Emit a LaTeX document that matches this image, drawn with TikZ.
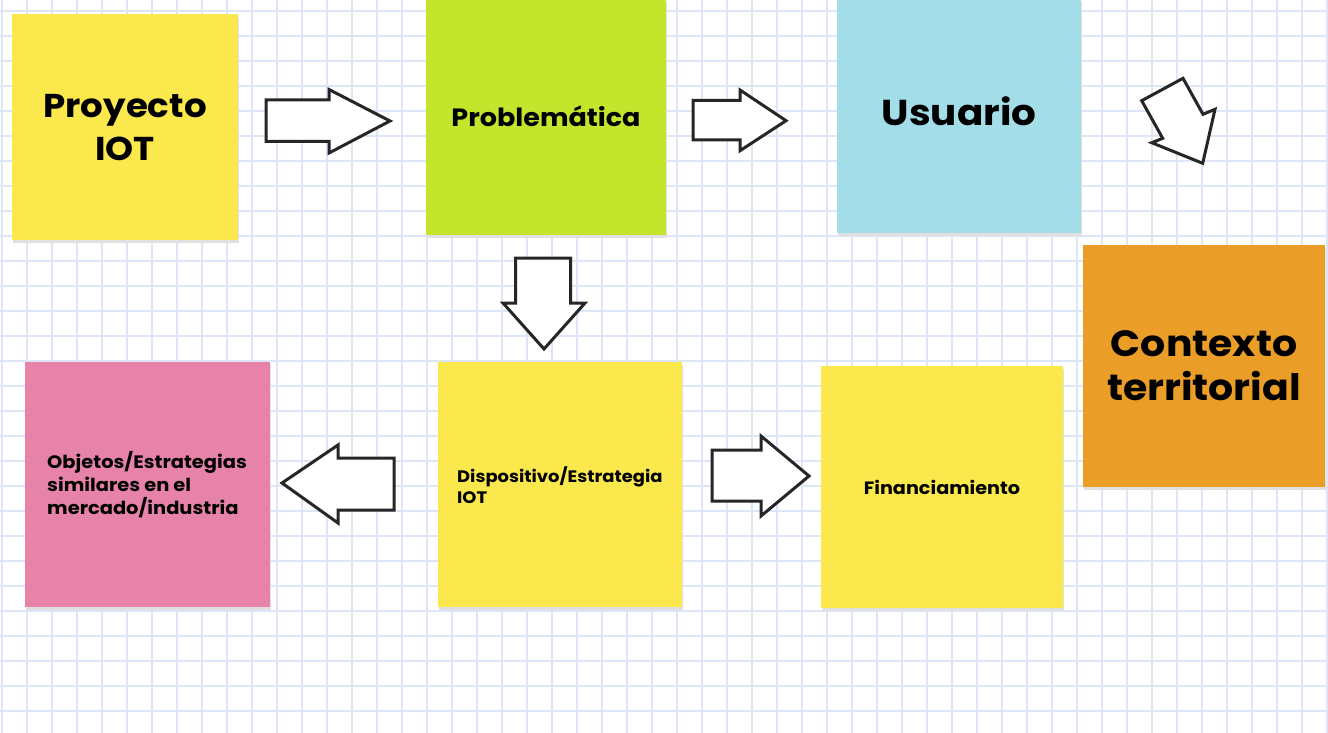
\documentclass[tikz,border=0pt]{standalone}
\usepackage{fontspec}
\setmainfont{Poppins}[FakeStretch=1.08]
\definecolor{gridc}{HTML}{DDE6F7}
\definecolor{noteyellow}{HTML}{FAE84C}
\definecolor{notegreen}{HTML}{C3E62D}
\definecolor{noteblue}{HTML}{A3DDE8}
\definecolor{noteorange}{HTML}{EB9E27}
\definecolor{notepink}{HTML}{E783A9}
\definecolor{arrowc}{HTML}{262626}
\begin{document}
\begin{tikzpicture}[x=1pt,y=-1pt,
  shadowbox/.style={fill=black!12},
  blockarrow/.style={draw=arrowc,fill=white,line width=3pt,line join=miter},
  bigtxt/.style={font=\fontsize{33}{43}\selectfont\bfseries,align=center,inner sep=0pt},
  smalltxt/.style={font=\fontsize{18}{23}\selectfont\bfseries,align=left,inner sep=0pt,anchor=west},
]
\useasboundingbox (0,0) rectangle (1328,733);
\fill[white] (0,0) rectangle (1328,733);
% grid
\foreach \i in {0,...,53} {
  \draw[gridc,line width=2pt] ({1.7+25*\i},0) -- ({1.7+25*\i},733);
}
\foreach \j in {0,...,29} {
  \draw[gridc,line width=2pt] (0,{10.7+25*\j}) -- (1328,{10.7+25*\j});
}
% shadows
\fill[shadowbox] (13,17) rectangle (239,243);
\fill[shadowbox] (427,2) rectangle (667,238);
\fill[shadowbox] (838,2) rectangle (1082,236);
\fill[shadowbox] (1084,248) rectangle (1326,490);
\fill[shadowbox] (26,365) rectangle (271,610);
\fill[shadowbox] (439,365) rectangle (683,610);
\fill[shadowbox] (822,369) rectangle (1064,611);
% notes
\path[fill=noteyellow] (12,14) rectangle (238,240) node[midway] (proy) {};
\path[fill=notegreen] (426,-2) rectangle (666,235) node[midway] (prob) {};
\path[fill=noteblue] (837,-2) rectangle (1081,233) node[midway] (usu) {};
\path[fill=noteorange] (1083,245) rectangle (1325,487) node[midway] (ctx) {};
\path[fill=notepink] (25,362) rectangle (270,607) node[midway] (obj) {};
\path[fill=noteyellow] (438,362) rectangle (682,607) node[midway] (disp) {};
\path[fill=noteyellow] (821,366) rectangle (1063,608) node[midway] (fin) {};
% texts
\node[bigtxt] (tproy) at (125,128) {Proyecto\\IOT};
\node[font=\fontsize{25}{28}\selectfont\bfseries,inner sep=0pt] (tprob) at (546,116) {Problemática};
\node[font=\fontsize{36}{44}\selectfont\bfseries,inner sep=0pt] (tusu) at (959,111) {Usuario};
\node[font=\fontsize{36.5}{44}\selectfont\bfseries,align=center,inner sep=0pt] (tctx) at (1204,366) {Contexto\\territorial};
\node[smalltxt] (tobj) at (47,485) {Objetos/Estrategias\\similares en el\\mercado/industria};
\node[smalltxt,font=\fontsize{16.6}{21}\selectfont\bfseries] (tdisp) at (457,485) {Dispositivo/Estrategia\\IOT};
\node[font=\fontsize{17.8}{21}\selectfont\bfseries,inner sep=0pt] (tfin) at (942,487) {Financiamiento};
% block arrows
\draw[blockarrow] (266,100) -- (329,100) -- (329,89.5) -- (390,121) -- (329,153) -- (329,141.5) -- (266,141.5) -- cycle;
\draw[blockarrow] (693,100.5) -- (740,100.5) -- (740,90) -- (786,120.7) -- (740,150.7) -- (740,140) -- (693,140) -- cycle;
\draw[blockarrow] (1141.7,100.7) -- (1183,78.3) -- (1203,114.3) -- (1215,109.3) -- (1202.7,163.3) -- (1151.7,142.7) -- (1162.7,138.3) -- cycle;
\draw[blockarrow] (515.7,258) -- (570.7,258) -- (570.7,303) -- (585,303) -- (544,349) -- (503,303) -- (515.7,303) -- cycle;
\draw[blockarrow] (394,458) -- (338,458) -- (338,445) -- (282,483) -- (338,523) -- (338,510) -- (394,510) -- cycle;
\draw[blockarrow] (712,450) -- (761,450) -- (761,436) -- (809,476) -- (761,516) -- (761,501) -- (712,501) -- cycle;
\end{tikzpicture}
\end{document}
